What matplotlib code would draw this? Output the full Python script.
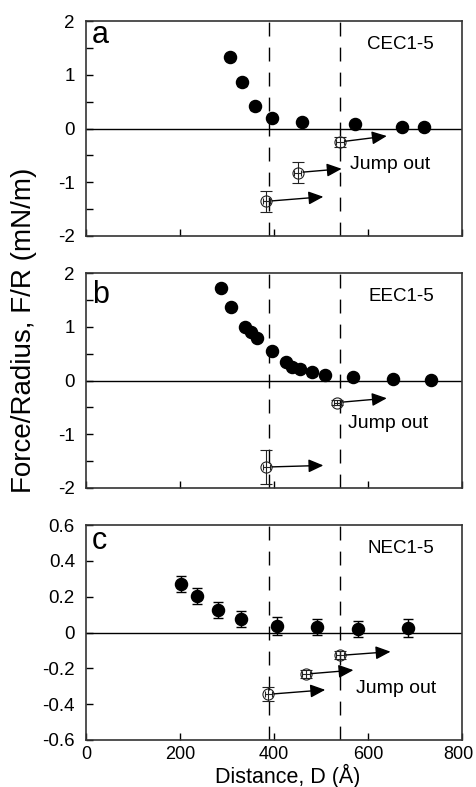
import matplotlib
matplotlib.use('Agg')
import matplotlib.pyplot as plt
import matplotlib.transforms as mtransforms
import numpy as np
from matplotlib import font_manager

plt.rcParams['font.family'] = ['Liberation Sans', 'DejaVu Sans']
plt.rcParams['axes.unicode_minus'] = False

names = set(f.name for f in font_manager.fontManager.ttflist)
TICKFONT = 'Liberation Sans Narrow' if 'Liberation Sans Narrow' in names else 'Liberation Sans'

# ---- panel a: CEC1-5 ----
a_D = [306, 331, 360, 395, 459, 572, 672, 719]
a_F = [1.33, 0.86, 0.41, 0.20, 0.12, 0.08, 0.03, 0.02]
a_err = [0.06, 0.06, 0.06, 0.06, 0.06, 0.05, 0.05, 0.05]
a_jD = [384, 450, 540]
a_jF = [-1.355, -0.82, -0.25]
a_jerr = [0.2, 0.2, 0.09]
a_tipD = [505, 544, 640]
a_tipF = [-1.27, -0.75, -0.14]

# ---- panel b: EEC1-5 ----
b_D = [287, 308, 338, 352, 364, 395, 425, 439, 455, 480, 509, 569, 654, 735]
b_F = [1.72, 1.37, 1.00, 0.90, 0.79, 0.55, 0.34, 0.26, 0.22, 0.15, 0.10, 0.06, 0.03, 0.01]
b_err = [0.06] * 14
b_jD = [384, 535]
b_jF = [-1.61, -0.41]
b_jerr = [0.31, 0.05]
b_tipD = [505, 640]
b_tipF = [-1.58, -0.33]

# ---- panel c: NEC1-5 ----
c_D = [202, 236, 281, 329, 406, 491, 578, 686]
c_F = [0.272, 0.203, 0.127, 0.075, 0.037, 0.030, 0.018, 0.024]
c_err = [0.046, 0.046, 0.046, 0.046, 0.05, 0.046, 0.045, 0.05]
c_jD = [388, 468, 540]
c_jF = [-0.345, -0.232, -0.128]
c_jerr = [0.04, 0.02, 0.022]
c_tipD = [509, 569, 648]
c_tipF = [-0.32, -0.21, -0.107]

jump_xerr = 8
dashed_D = [390, 540]

xticks = [0, 200, 400, 600, 800]
ab_yticks = [-2, -1, 0, 1, 2]
ab_ylabels = ['-2', '-1', '0', '1', '2']
c_yticks = [-0.6, -0.4, -0.2, 0, 0.2, 0.4, 0.6]
c_ylabels = ['-0.6', '-0.4', '-0.2', '0', '0.2', '0.4', '0.6']

panels = [
    dict(letter='a', name='CEC1-5', D=a_D, F=a_F, err=a_err, jD=a_jD, jF=a_jF, jerr=a_jerr,
         tipD=a_tipD, tipF=a_tipF, ylim=(-2, 2), yticks=ab_yticks, ylabels=ab_ylabels,
         minor=0.5, jump=(562, -0.76), lety=0.898),
    dict(letter='b', name='EEC1-5', D=b_D, F=b_F, err=b_err, jD=b_jD, jF=b_jF, jerr=b_jerr,
         tipD=b_tipD, tipF=b_tipF, ylim=(-2, 2), yticks=ab_yticks, ylabels=ab_ylabels,
         minor=0.5, jump=(558, -0.89), lety=0.86),
    dict(letter='c', name='NEC1-5', D=c_D, F=c_F, err=c_err, jD=c_jD, jF=c_jF, jerr=c_jerr,
         tipD=c_tipD, tipF=c_tipF, ylim=(-0.6, 0.6), yticks=c_yticks, ylabels=c_ylabels,
         minor=None, jump=(574, -0.335), lety=0.888),
]

fig = plt.figure(figsize=(4.76, 7.87), dpi=100)
left, width, height = 86 / 476, 376 / 476, 215 / 787
bottoms = [1 - 236 / 787, 1 - 488 / 787, 1 - 740 / 787]

for p, bot in zip(panels, bottoms):
    ax = fig.add_axes([left, bot, width, height])
    ax.set_xlim(0, 800)
    ax.set_ylim(*p['ylim'])

    ax.axhline(0, color='k', lw=1.0, zorder=1)
    for d in dashed_D:
        ax.axvline(d, color='k', lw=1.0, dashes=(10, 8), zorder=1)

    # approach data (filled)
    ax.errorbar(p['D'], p['F'], yerr=p['err'], fmt='o', color='k', ms=8.7,
                capsize=3.5, elinewidth=1.0, capthick=1.0, zorder=3)
    # jump-out points (open, crossed)
    ax.errorbar(p['jD'], p['jF'], xerr=jump_xerr, fmt='none', ecolor='#222',
                capsize=2, elinewidth=0.8, capthick=0.8, zorder=3)
    ax.errorbar(p['jD'], p['jF'], yerr=p['jerr'], fmt='o', color='#222',
                mfc='none', mec='#222', ms=8, mew=0.8, capsize=4, elinewidth=0.8,
                capthick=0.8, zorder=3)
    for x0, y0, x1, y1 in zip(p['jD'], p['jF'], p['tipD'], p['tipF']):
        ax.annotate('', xy=(x1, y1), xytext=(x0, y0),
                    arrowprops=dict(arrowstyle='-|>,head_length=0.9,head_width=0.4',
                                    mutation_scale=10, lw=1.0, color='k',
                                    shrinkA=4, shrinkB=0), zorder=4)

    ax.text(p['jump'][0], p['jump'][1], 'Jump out', fontsize=14, ha='left', va='baseline')
    ax.text(0.925, 0.87, p['name'], transform=ax.transAxes, fontsize=13.5,
            ha='right', va='baseline')
    ax.text(0.016, p['lety'], p['letter'], transform=ax.transAxes, fontsize=22,
            ha='left', va='baseline')

    ax.set_xticks(xticks)
    ax.set_yticks(p['yticks'])
    ax.set_yticklabels(p['ylabels'], fontfamily=TICKFONT)
    if p['minor']:
        ax.set_yticks(np.arange(p['ylim'][0], p['ylim'][1] + 0.01, p['minor']), minor=True)
    ax.tick_params(axis='both', which='both', direction='in', length=5, width=1.0,
                   labelsize=13.5, top=False, right=False)
    ax.tick_params(axis='y', pad=8)
    ax.tick_params(axis='x', pad=4, labelsize=13)
    if p['letter'] != 'c':
        ax.set_xticklabels([])
    else:
        ax.set_xticklabels([str(t) for t in xticks], fontfamily=TICKFONT)
        last = ax.get_xticklabels()[-1]
        last.set_transform(last.get_transform() +
                           mtransforms.ScaledTranslation(-4 / 100, 0, fig.dpi_scale_trans))
    for sp in ax.spines.values():
        sp.set_linewidth(1.2)
        sp.set_color('#333333')

fig.text(24.5 / 476, 1 - 330 / 787, 'Force/Radius, F/R (mN/m)', rotation=90,
         fontsize=20, ha='center', va='center')
fig.text(287.5 / 476, 1 - 783 / 787, 'Distance, D (Å)', fontsize=15.5,
         ha='center', va='baseline')

fig.savefig('out.png', dpi=100)
